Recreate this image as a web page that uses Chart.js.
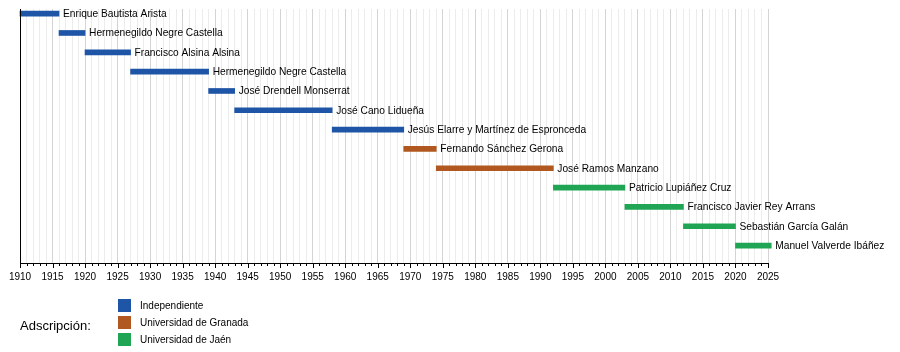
<!DOCTYPE html>
<html>
<head>
<meta charset="utf-8">
<script src="https://cdn.jsdelivr.net/npm/chart.js@4"></script>
<style>
  html, body { margin: 0; padding: 0; background: #fff; }
  #wrap { width: 900px; height: 352px; }
</style>
</head>
<body>
<div id="wrap"><canvas id="timeline" width="900" height="352"></canvas></div>
<script>
// rectores, one row each (top to bottom)
var names = ['Enrique Bautista Arista', 'Hermenegildo Negre Castella', 'Francisco Alsina Alsina',
  'Hermenegildo Negre Castella', 'José Drendell Monserrat', 'José Cano Lidueña',
  'Jesús Elarre y Martínez de Espronceda', 'Fernando Sánchez Gerona', 'José Ramos Manzano',
  'Patricio Lupiáñez Cruz', 'Francisco Javier Rey Arrans', 'Sebastián García Galán',
  'Manuel Valverde Ibáñez'];
var starts = [1910, 1916, 1920, 1927, 1939, 1943, 1958, 1969, 1974, 1992, 2003, 2012, 2020];
var ends = [1916, 1920, 1927, 1939, 1943, 1958, 1969, 1974, 1992, 2003, 2012, 2020, 2025.5];
var adscripcion = [0, 0, 0, 0, 0, 0, 0, 1, 1, 2, 2, 2, 2];   // index into groups

var groups = ['Independiente', 'Universidad de Granada', 'Universidad de Jaén'];
var groupColors = ['#1f55a6', '#b0581f', '#1fa553'];

var yearMin = 1910, yearMax = 2025;
var FONT = '"Liberation Sans", Arial, sans-serif';

var rows = [];
for (var i = 0; i < names.length; i++) {
  rows.push({ y: i, x: [starts[i], ends[i]] });
}

// draws names next to bars, the axis ticks, left border and the legend
var timelineExtras = {
  id: 'timelineExtras',
  afterDatasetsDraw: function (chart) {
    var ctx = chart.ctx;
    var meta = chart.getDatasetMeta(0);
    ctx.save();
    ctx.fillStyle = '#000';
    ctx.font = '10.2px ' + FONT;
    ctx.textBaseline = 'middle';
    ctx.textAlign = 'left';
    meta.data.forEach(function (bar, i) {
      ctx.fillText(names[i], bar.x + 4, bar.y + 0.5);
    });
    ctx.restore();
  },
  afterDraw: function (chart) {
    var ctx = chart.ctx;
    var area = chart.chartArea;
    var xs = chart.scales.x;
    ctx.save();
    ctx.strokeStyle = '#000';
    ctx.lineWidth = 1;
    // left border
    ctx.beginPath();
    ctx.moveTo(Math.round(area.left) + 0.5, area.top);
    ctx.lineTo(Math.round(area.left) + 0.5, area.bottom);
    ctx.stroke();
    // year ticks under the axis
    ctx.beginPath();
    for (var y = yearMin; y <= yearMax; y++) {
      var px = Math.round(xs.getPixelForValue(y)) + 0.5;
      ctx.moveTo(px, area.bottom);
      ctx.lineTo(px, area.bottom + (y % 5 === 0 ? 5 : 3));
    }
    ctx.stroke();

    // legend
    ctx.fillStyle = '#000';
    ctx.font = '13px ' + FONT;
    ctx.textBaseline = 'middle';
    ctx.fillText('Adscripción:', 20, 326);
    ctx.font = '10px ' + FONT;
    for (var g = 0; g < groups.length; g++) {
      var top = 299 + g * 17;
      ctx.fillStyle = groupColors[g];
      ctx.fillRect(118, top, 13, 13);
      ctx.fillStyle = '#000';
      ctx.fillText(groups[g], 140, top + 7);
    }
    ctx.restore();
  }
};

var timelineChart = new Chart(document.getElementById('timeline'), {
  type: 'bar',
  data: {
    datasets: [{
      data: rows,
      backgroundColor: adscripcion.map(function (a) { return groupColors[a]; }),
      barThickness: 5,
      borderWidth: 0,
      clip: false
    }]
  },
  options: {
    indexAxis: 'y',
    responsive: false,
    animation: false,
    layout: { padding: { left: 20, right: 132, top: 9, bottom: 0 } },
    plugins: { legend: { display: false }, tooltip: { enabled: false } },
    scales: {
      y: {
        type: 'linear',
        reverse: true,
        offset: false,
        grace: 0,
        min: -0.24,
        max: 12.9,
        display: false
      },
      x: {
        type: 'linear',
        min: yearMin,
        max: yearMax,
        afterFit: function (scale) { scale.height = 89; },
        border: { display: true, color: '#000', width: 1 },
        grid: {
          drawTicks: false,
          color: function (c) {
            return c.tick && c.tick.value % 5 === 0 ? '#d4d4d4' : '#ececec';
          }
        },
        ticks: {
          stepSize: 1,
          autoSkip: false,
          maxRotation: 0,
          padding: 8,
          color: '#000',
          font: { family: FONT, size: 10 },
          callback: function (v) { return v % 5 === 0 ? String(v) : ''; }
        }
      }
    }
  },
  plugins: [timelineExtras]
});
</script>
</body>
</html>
